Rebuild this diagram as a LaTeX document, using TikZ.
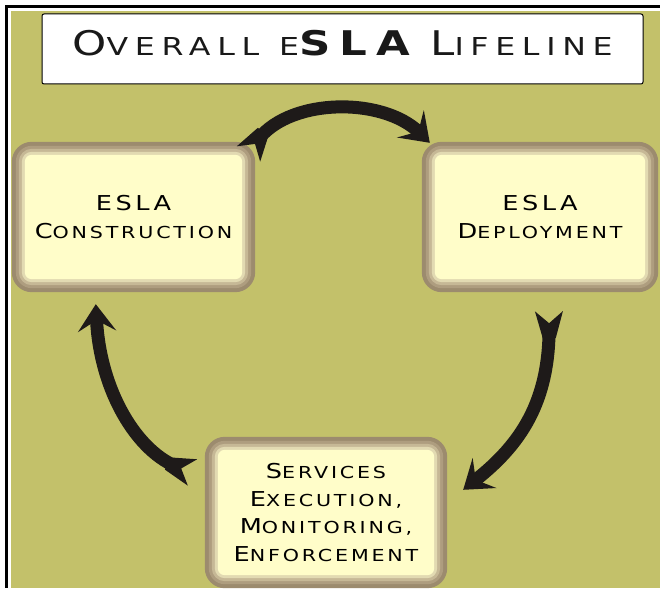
\documentclass[tikz,border=0pt]{standalone}
\usepackage{fontspec}
\newfontfamily\eslafont{DejaVu Sans}[FakeStretch=1.25,LetterSpace=17]
\newfontfamily\titlefont{DejaVu Sans}[FakeStretch=1.28,LetterSpace=27]
\usetikzlibrary{arrows.meta,calc,backgrounds,decorations.markings}
\definecolor{olivebg}{HTML}{C3C16A}
\definecolor{boxfill}{HTML}{FFFDC9}
\definecolor{bandA}{HTML}{9C8B6E}
\definecolor{bandB}{HTML}{AE9D7F}
\definecolor{bandC}{HTML}{C6B896}
\definecolor{bandD}{HTML}{E2DAB2}
\definecolor{arrowc}{HTML}{1E1A19}
\newcommand\tbig{\fontsize{34}{40}\selectfont}
\newcommand\tsml{\fontsize{24.7}{30}\selectfont}
\newcommand\bbig{\fontsize{20.5}{27.5}\selectfont}
\newcommand\bsml{\fontsize{16.5}{27.5}\selectfont}
\newcommand\eslaframe[1]{%
  \foreach \i/\col in {0/bandA,4/bandB,7/bandC,10/bandD,13/boxfill}{%
    \pgfmathsetmacro\rr{max(20-\i,5)}
    \fill[\col, rounded corners=\rr pt] ($(#1.north west)+(\i,\i)$) rectangle ($(#1.south east)+(-\i,-\i)$);
  }}
\tikzset{
  stagebox/.style={rectangle, inner sep=0pt, align=center, text=black,
    font=\eslafont\bsml},
  titlebox/.style={rectangle, draw=black, line width=1pt, fill=white,
    rounded corners=2pt, minimum width=601pt, minimum height=70pt,
    text depth=13pt, inner sep=0pt, font=\titlefont, text=black!90},
  cyc/.style={line width=13pt, draw=arrowc, shorten <=8pt,
    -{Stealth[length=27pt,width=38pt,inset=11pt]},
    postaction={decorate},
    decoration={markings, mark=at position 0 with {
      \fill[arrowc] (22pt,6.5pt) -- (-5pt,14pt) -- (7pt,0pt) -- (-5pt,-14pt) -- (22pt,-6.5pt) -- cycle;}}}
}
\begin{document}
\begin{tikzpicture}[x=1pt,y=-1pt]
\useasboundingbox (0,0) rectangle (660,588);
\begin{scope}[on background layer]
  \fill[white] (0,0) rectangle (660,588);
  \fill[olivebg] (11,11) rectangle (660,588);
  \fill[black] (5,5) rectangle (660,8);
  \fill[black] (5,5) rectangle (8,588);
\end{scope}

\node[titlebox] (title) at (342.5,49)
  {{\tbig O}{\tsml VERALL}\hspace{20pt}{\tsml E}{\tbig\bfseries SLA}\hspace{20pt}{\tbig L}{\tsml IFELINE}};

\node[stagebox, minimum width=243pt, minimum height=150pt] (c) at (133.5,217)
  {{\bbig ESLA}\\{\bbig C}ONSTRUCTION};
\node[stagebox, minimum width=236pt, minimum height=150pt] (d) at (540,217)
  {{\bbig ESLA}\\{\bbig D}EPLOYMENT};
\node[stagebox, minimum width=242pt, minimum height=151pt] (s) at (326,512.5)
  {{\bbig S}ERVICES\\{\bbig E}XECUTION,\\{\bbig M}ONITORING,\\{\bbig E}NFORCEMENT};

\begin{scope}[on background layer]
  \eslaframe{c}
  \eslaframe{d}
  \eslaframe{s}
\end{scope}

\draw[cyc] ($(c.north east)+(-4,8)$) .. controls ($(c.north east)+(30,-44)$) and ($(d.north west)+(-40,-46)$) .. ($(d.north west)+(8,1)$);
\draw[cyc] ($(d.south)+(9,24)$) .. controls ($(d.south)+(10,110)$) and ($(s.north east)+(73,8)$) .. ($(s.north east)+(16,53)$);
\draw[cyc] ($(s.north west)+(-17,34)$) .. controls ($(s.north west)+(-68,16)$) and ($(c.south west)+(88,98)$) .. ($(c.south west)+(84,12)$);
\end{tikzpicture}
\end{document}
